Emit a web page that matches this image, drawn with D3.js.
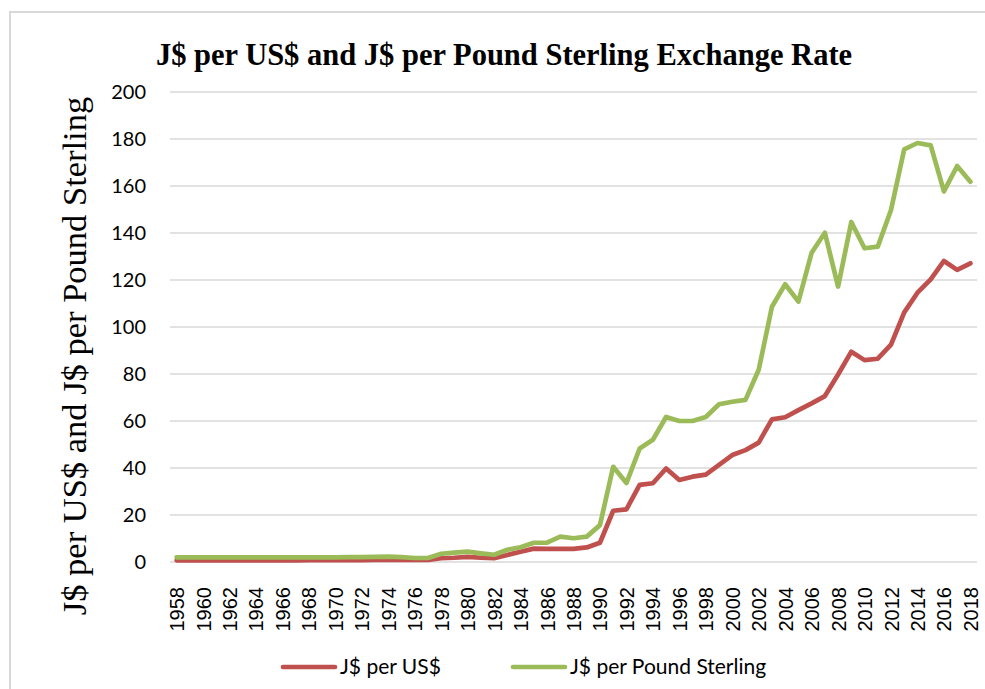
<!DOCTYPE html>
<html lang="en">
<head>
    <meta charset="utf-8">
    <style type="text/css">
        body {
            margin: 0;
            background: #fff;
        }
        svg {
            display: block;
        }
        .grid line { stroke: #d9d9d9; stroke-width: 1.5px; }
        .series { fill: none; stroke-width: 4.7px; stroke-linejoin: round; stroke-linecap: round; }
    </style>
</head>
<body>
<div id="chart"></div>
<script src="https://d3js.org/d3.v7.min.js" type="text/javascript"></script>
<script type="text/javascript">
    // years 1958 - 2018
    var years = d3.range(1958, 2019);

    // J$ per US$
    var usd = [
        0.71, 0.71, 0.71, 0.71, 0.71, 0.71, 0.71, 0.71, 0.71, 0.71,   // 1958-1967
        0.83, 0.83, 0.83, 0.83, 0.79, 0.91, 0.91, 0.91, 0.91, 0.91,   // 1968-1977
        1.6, 1.8, 2.2, 1.8, 1.6, 3.0, 4.4, 5.7, 5.6, 5.6,             // 1978-1987
        5.6, 6.2, 8.2, 21.8, 22.4, 32.8, 33.5, 39.8, 34.9, 36.3,      // 1988-1997
        37.2, 41.3, 45.5, 47.6, 50.8, 60.7, 61.6, 64.6, 67.5, 70.6,   // 1998-2007
        79.8, 89.5, 85.9, 86.5, 92.5, 106.2, 114.6, 120.3, 128.1, 124.3, // 2008-2017
        127.1                                                        // 2018
    ];

    // J$ per Pound Sterling
    var gbp = [
        2.0, 2.0, 2.0, 2.0, 2.0, 2.0, 2.0, 2.0, 2.0, 2.0,             // 1958-1967
        2.0, 2.0, 2.0, 2.1, 2.1, 2.2, 2.3, 2.1, 1.7, 1.7,             // 1968-1977
        3.5, 4.0, 4.4, 3.7, 3.1, 5.2, 6.3, 8.2, 8.2, 10.8,            // 1978-1987
        10.1, 10.8, 15.7, 40.5, 33.6, 48.3, 52.0, 61.7, 60.0, 60.0,   // 1988-1997
        61.7, 67.1, 68.2, 69.0, 81.8, 108.6, 118.2, 110.8, 131.6, 140.1, // 1998-2007
        117.2, 144.7, 133.5, 134.2, 149.8, 175.6, 178.3, 177.3, 157.7, 168.5, // 2008-2017
        161.8                                                        // 2018
    ];

    var yTicks = [0, 20, 40, 60, 80, 100, 120, 140, 160, 180, 200];
    var xTickYears = years.filter(function (y) { return (y - 1958) % 2 === 0; });

    var seriesNames = ["J$ per US$", "J$ per Pound Sterling"];
    var seriesColors = ["#c0504d", "#9bbb59"];

    var width = 985,
        height = 689;

    var svg = d3.select("#chart")
        .append("svg")
        .attr("width", width)
        .attr("height", height);

    // chart area border (cut off at right and bottom)
    svg.append("rect")
        .attr("x", 10)
        .attr("y", 12)
        .attr("width", 1000)
        .attr("height", 700)
        .attr("fill", "#fff")
        .attr("stroke", "#d9d9d9")
        .attr("stroke-width", 2);

    var x = d3.scalePoint()
        .domain(years)
        .range([170, 977])
        .padding(0.5);

    var y = d3.scaleLinear()
        .domain([0, 200])
        .range([562, 92]);

    // gridlines
    svg.append("g")
        .attr("class", "grid")
        .selectAll("line")
        .data(yTicks)
        .enter()
        .append("line")
        .attr("x1", 170)
        .attr("x2", 977)
        .attr("y1", function (d) { return y(d); })
        .attr("y2", function (d) { return y(d); });

    // y axis labels
    var yAxis = d3.axisLeft(y).tickValues(yTicks).tickSize(0).tickPadding(0);
    var yg = svg.append("g")
        .attr("transform", "translate(146,0)")
        .call(yAxis);
    yg.select(".domain").remove();
    yg.selectAll("text")
        .attr("font-family", "Lato, 'Open Sans', sans-serif")
        .attr("font-size", 20)
        .attr("fill", "#000");

    // x axis labels, rotated about each tick's own position
    var xAxis = d3.axisBottom(x).tickValues(xTickYears).tickSize(0).tickPadding(0);
    var xg = svg.append("g")
        .attr("transform", "translate(0,587)")
        .call(xAxis);
    xg.select(".domain").remove();
    xg.selectAll(".tick text")
        .attr("font-family", "'Liberation Sans', Arial, sans-serif")
        .attr("font-size", 20)
        .attr("fill", "#000")
        .attr("transform", "rotate(-90)")
        .attr("text-anchor", "end")
        .attr("x", 0)
        .attr("y", 0)
        .attr("dy", "0.35em");

    // lines
    var line = d3.line()
        .x(function (d, i) { return x(years[i]); })
        .y(function (d) { return y(d); });

    svg.append("path")
        .datum(usd)
        .attr("class", "series")
        .attr("stroke", seriesColors[0])
        .attr("d", line);

    svg.append("path")
        .datum(gbp)
        .attr("class", "series")
        .attr("stroke", seriesColors[1])
        .attr("d", line);

    // title
    svg.append("text")
        .attr("x", 504)
        .attr("y", 65)
        .attr("text-anchor", "middle")
        .attr("font-family", "'Liberation Serif', 'Times New Roman', serif")
        .attr("font-weight", "bold")
        .attr("font-size", 30.5)
        .attr("fill", "#000")
        .text("J$ per US$ and J$ per Pound Sterling Exchange Rate");

    // y axis title
    svg.append("text")
        .attr("transform", "translate(86,356) rotate(-90)")
        .attr("text-anchor", "middle")
        .attr("font-family", "'Liberation Serif', 'Times New Roman', serif")
        .attr("font-size", 34.5)
        .attr("fill", "#000")
        .text("J$ per US$ and J$ per Pound Sterling");

    // legend
    var legendX = [283, 513];
    var legend = svg.append("g");
    seriesNames.forEach(function (name, i) {
        legend.append("line")
            .attr("x1", legendX[i])
            .attr("x2", legendX[i] + 52)
            .attr("y1", 667)
            .attr("y2", 667)
            .attr("stroke", seriesColors[i])
            .attr("stroke-width", 4.7)
            .attr("stroke-linecap", "round");
        legend.append("text")
            .attr("x", legendX[i] + 57)
            .attr("y", 667)
            .attr("dy", "0.35em")
            .attr("font-family", "Lato, 'Open Sans', sans-serif")
            .attr("font-size", 21)
            .attr("fill", "#000")
            .text(name);
    });
</script>
</body>
</html>
